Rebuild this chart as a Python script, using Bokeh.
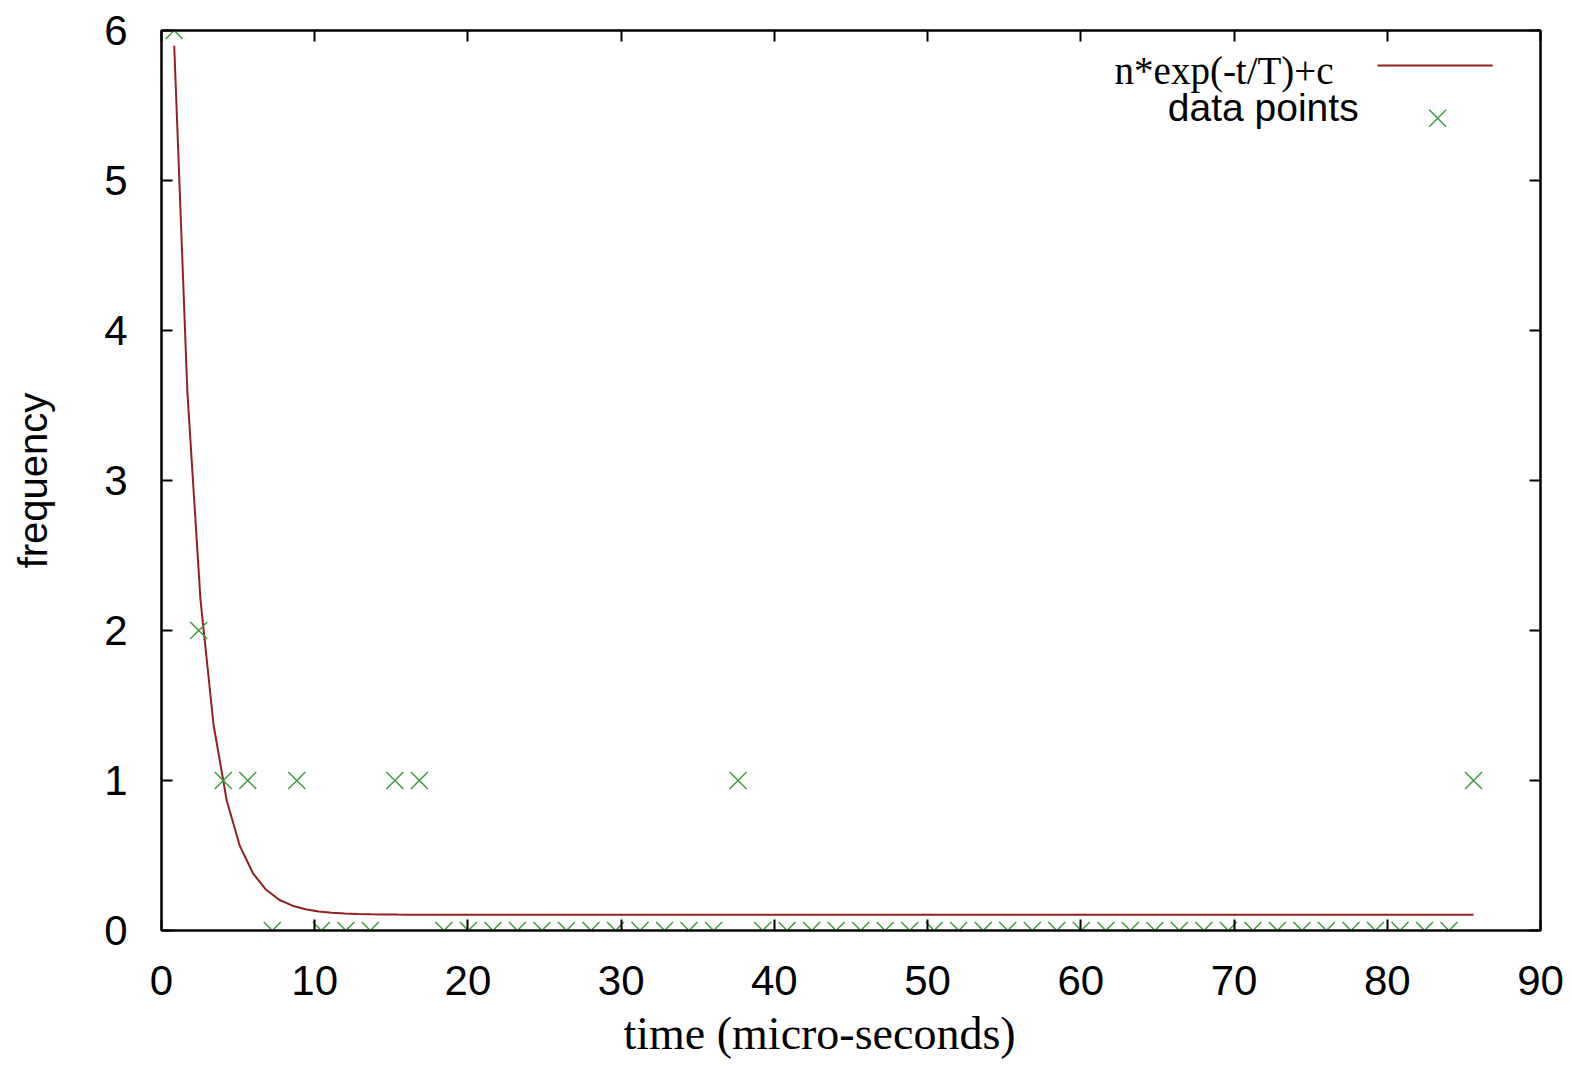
from bokeh.plotting import figure
from bokeh.models import LinearAxis, SingleIntervalTicker, Label, Title
from bokeh.embed import file_html
from bokeh.resources import INLINE
import numpy as np

# ---- data ----
time_us = [0.83, 2.43, 4.03, 5.63, 7.23, 8.83, 10.43, 12.03, 13.63, 15.23,
           16.83, 18.43, 20.03, 21.63, 23.23, 24.83, 26.43, 28.03, 29.63, 31.23,
           32.83, 34.43, 36.03, 37.63, 39.23, 40.83, 42.43, 44.03, 45.63, 47.23,
           48.83, 50.43, 52.03, 53.63, 55.23, 56.83, 58.43, 60.03, 61.63, 63.23,
           64.83, 66.43, 68.03, 69.63, 71.23, 72.83, 74.43, 76.03, 77.63, 79.23,
           80.83, 82.43, 84.03, 85.63]
frequency = [6, 2, 1, 1, 0, 1, 0, 0, 0, 1,
             1, 0, 0, 0, 0, 0, 0, 0, 0, 0,
             0, 0, 0, 1, 0, 0, 0, 0, 0, 0,
             0, 0, 0, 0, 0, 0, 0, 0, 0, 0,
             0, 0, 0, 0, 0, 0, 0, 0, 0, 0,
             0, 0, 0, 1]

# fitted model n*exp(-t/T)+c (parameters)
fit_n = 9.47
fit_T = 1.689
fit_c = 0.105
fit_t = np.linspace(time_us[0], time_us[-1], 100)
fit_y = fit_n * np.exp(-fit_t / fit_T) + fit_c

x_ticks_interval = 10
y_ticks_interval = 1
x_tick_values = list(range(0, 91, 10))
y_tick_values = list(range(0, 7))

fit_label = "n*exp(-t/T)+c"
data_label = "data points"
x_title = "time (micro-seconds)"
y_title = "frequency"

# legend key placement (data space of the plot)
leg_line_x = [79.37, 86.88]
leg_line_y = [5.767, 5.767]
leg_cross = (83.29, 5.415)
leg_text1 = (76.5, 5.735)
leg_text2 = (78.13, 5.487)

CURVE = "#932020"
GREEN = "#3f9c3f"
SANS = "Liberation Sans"
SERIF = "Liberation Serif"

p = figure(frame_width=1379, frame_height=900, x_range=(0, 90), y_range=(0, 6),
           output_backend="svg", toolbar_location=None,
           min_border_left=161, min_border_right=24,
           min_border_top=30, min_border_bottom=100)
p.grid.visible = False
p.outline_line_color = "black"
p.outline_line_width = 2
p.background_fill_color = "white"
p.border_fill_color = "white"

for ax in (p.xaxis[0], p.yaxis[0]):
    ax.major_tick_in = 11
    ax.major_tick_out = 0
    ax.minor_tick_line_color = None
    ax.major_tick_line_width = 2
    ax.axis_line_width = 2
    ax.major_label_text_font = SANS
    ax.major_label_text_font_size = "42px"
    ax.major_label_text_color = "black"

p.xaxis[0].ticker = SingleIntervalTicker(interval=x_ticks_interval)
p.yaxis[0].ticker = SingleIntervalTicker(interval=y_ticks_interval)
p.xaxis[0].major_label_standoff = 31
p.yaxis[0].major_label_standoff = 30

p.yaxis[0].axis_label = y_title
p.yaxis[0].axis_label_text_font = SANS
p.yaxis[0].axis_label_text_font_size = "40px"
p.yaxis[0].axis_label_text_font_style = "normal"
p.yaxis[0].axis_label_text_color = "black"
p.yaxis[0].axis_label_standoff = 46

for loc, interval, vals in (("above", x_ticks_interval, x_tick_values),
                            ("right", y_ticks_interval, y_tick_values)):
    ax = LinearAxis(ticker=SingleIntervalTicker(interval=interval))
    ax.major_tick_in = 11
    ax.major_tick_out = 0
    ax.minor_tick_line_color = None
    ax.major_tick_line_width = 2
    ax.axis_line_width = 2
    ax.major_label_overrides = {v: "" for v in vals}
    ax.major_label_standoff = 0
    ax.major_label_text_font_size = "10px"
    p.add_layout(ax, loc)

# x axis title (gnuplot places it slightly left of the frame centre)
p.add_layout(Title(text=x_title, align="left", offset=462, standoff=16,
                   text_font=SERIF, text_font_size="46px",
                   text_font_style="normal", text_color="black"), "below")

# fit curve
p.line(fit_t, fit_y, line_color=CURVE, line_width=2)
# data points
p.scatter(time_us, frequency, marker="x", size=24, line_color=GREEN, line_width=1.5)

# legend
p.line(leg_line_x, leg_line_y, line_color=CURVE, line_width=2)
p.scatter([leg_cross[0]], [leg_cross[1]], marker="x", size=24, line_color=GREEN, line_width=1.5)
p.add_layout(Label(x=leg_text1[0], y=leg_text1[1], text=fit_label, text_align="right",
                   text_baseline="middle", text_font=SERIF, text_font_size="39px",
                   text_color="black"))
p.add_layout(Label(x=leg_text2[0], y=leg_text2[1], text=data_label, text_align="right",
                   text_baseline="middle", text_font=SANS, text_font_size="39px",
                   text_color="black"))

open("out.html", "w").write(file_html(p, INLINE))
